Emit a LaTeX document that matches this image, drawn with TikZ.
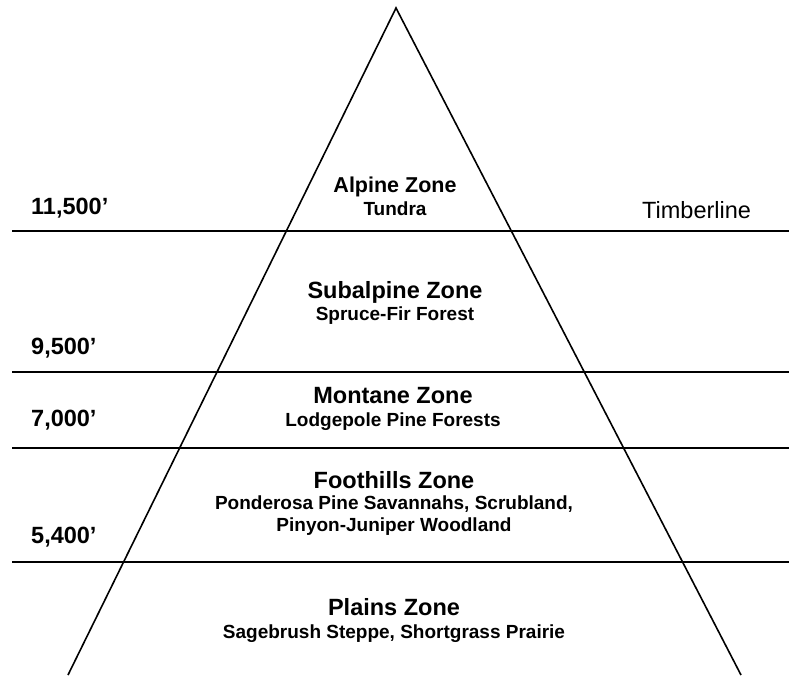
\documentclass[tikz,border=0pt]{standalone}
\usepackage{fontspec}
\setmainfont{Liberation Sans}
\begin{document}
\begin{tikzpicture}[x=1pt,y=-1pt,
  hline/.style={line width=2pt,black},
  tline/.style={line width=1.6pt,black},
  title/.style={anchor=base,inner sep=0pt,font=\bfseries\fontsize{23.5}{28}\selectfont},
  alptitle/.style={anchor=base,inner sep=0pt,font=\bfseries\fontsize{21.5}{26}\selectfont},
  sub/.style={anchor=base,inner sep=0pt,font=\bfseries\fontsize{19}{23}\selectfont},
  alt/.style={anchor=base west,inner sep=0pt,font=\bfseries\fontsize{23.5}{28}\selectfont},
  tl/.style={anchor=base west,inner sep=0pt,font=\fontsize{23.5}{28}\selectfont}]
\useasboundingbox[fill=white] (0,0) rectangle (789,675);
% horizontal lines
\coordinate (h1l) at (12,231); \coordinate (h1r) at (789,231);
\coordinate (h2l) at (12,372); \coordinate (h2r) at (789,372);
\coordinate (h3l) at (12,448); \coordinate (h3r) at (789,448);
\coordinate (h4l) at (12,562); \coordinate (h4r) at (789,562);
\draw[hline] (h1l) -- (h1r);
\draw[hline] (h2l) -- (h2r);
\draw[hline] (h3l) -- (h3r);
\draw[hline] (h4l) -- (h4r);
% triangle
\coordinate (apex) at (396,8);
\coordinate (bl) at (68,675);
\coordinate (br) at (741,675);
\draw[tline,line join=miter] (bl) -- (apex) -- (br);
% texts
\node[alptitle] (alpine) at (395,192) {Alpine Zone};
\node[sub] (tundra) at (395,215) {Tundra};
\node[alt] (a1) at (31,214) {11,500’};
\node[tl] (timber) at (642,218) {Timberline};
\node[title] (subalp) at (395,298) {Subalpine Zone};
\node[sub] (spruce) at (395,320) {Spruce-Fir Forest};
\node[alt] (a2) at (31,354) {9,500’};
\node[title] (montane) at (393,403) {Montane Zone};
\node[sub] (lodge) at (393,426) {Lodgepole Pine Forests};
\node[alt] (a3) at (31,426) {7,000’};
\node[title] (foot) at (394,488) {Foothills Zone};
\node[sub] (pond) at (394,509) {Ponderosa Pine Savannahs, Scrubland,};
\node[sub] (pinyon) at (394,531) {Pinyon-Juniper Woodland};
\node[alt] (a4) at (31,543) {5,400’};
\node[title] (plains) at (394,615) {Plains Zone};
\node[sub] (sage) at (394,638) {Sagebrush Steppe, Shortgrass Prairie};
\end{tikzpicture}
\end{document}
